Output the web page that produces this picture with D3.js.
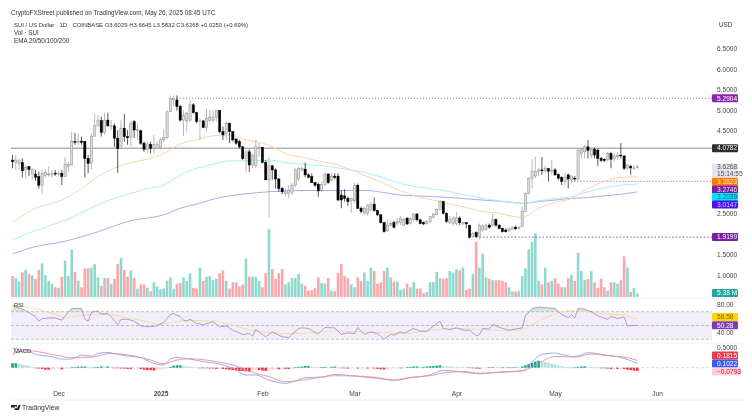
<!DOCTYPE html>
<html>
<head>
<meta charset="utf-8">
<script src="https://cdnjs.cloudflare.com/ajax/libs/d3/7.8.5/d3.min.js"></script>
<style>
  html, body { margin: 0; padding: 0; background: #fff; }
  svg { display: block; filter: blur(0.25px); }
  text { font-family: "Liberation Sans", Arial, sans-serif; }
  .axis path { display: none; }
  .axis line { display: none; }
  .axis text { font-size: 6.6px; fill: #444; }
</style>
</head>
<body>
<svg id="chart" width="752" height="418"></svg>
<script>
// Daily candles, Nov 17 2024 to May 26 2025
const opens = [
  3.79,3.73,3.70,3.73,3.55,3.63,3.45,3.45,3.39,3.18,
  3.42,3.43,3.44,3.47,3.45,3.47,3.39,3.64,3.67,4.24,
  4.22,4.25,4.24,3.83,3.71,4.37,4.62,4.75,4.46,4.76,
  4.60,4.62,4.32,4.07,4.56,4.36,4.35,4.72,4.50,4.50,
  4.20,4.05,4.17,4.07,4.07,4.10,4.28,4.34,4.96,5.25,
  5.25,5.09,4.76,4.74,4.76,5.13,4.94,4.72,4.74,4.58,
  4.75,4.76,4.83,4.99,4.48,4.44,4.68,4.48,4.30,4.24,
  4.11,3.83,3.99,3.67,3.65,4.07,4.10,3.73,3.31,3.65,
  3.55,3.33,3.10,2.98,2.98,3.00,3.18,3.33,3.55,3.57,
  3.43,3.39,3.24,3.20,3.06,3.20,3.45,3.29,3.40,3.40,
  2.94,2.92,2.86,2.80,2.80,3.18,2.62,2.51,2.50,2.58,
  2.72,2.56,2.46,2.27,2.07,2.21,2.27,2.25,2.27,2.21,
  2.38,2.25,2.35,2.48,2.34,2.27,2.25,2.30,2.40,2.46,
  2.59,2.78,2.50,2.28,2.25,2.25,2.38,2.24,2.27,2.21,
  1.93,2.03,1.93,2.09,2.11,2.21,2.21,2.35,2.21,2.13,
  2.09,2.07,2.11,2.16,2.13,2.17,2.54,2.98,3.35,3.40,
  3.52,3.55,3.53,3.58,3.52,3.55,3.44,3.37,3.27,3.43,
  3.31,3.35,3.33,3.95,3.99,4.11,3.91,4.05,4.03,3.83,
  3.81,3.81,3.95,3.83,3.87,3.91,3.89,3.59,3.63,3.60,3.6029
];
const closes = [
  3.75,3.79,3.77,3.53,3.61,3.56,3.56,3.37,3.18,3.47,
  3.49,3.45,3.47,3.45,3.47,3.39,3.69,3.69,4.24,4.22,
  4.25,4.22,3.83,3.71,4.37,4.62,4.76,4.46,4.76,4.62,
  4.62,4.32,4.07,4.56,4.36,4.33,4.68,4.52,4.53,4.20,
  4.05,4.18,4.07,4.17,4.16,4.28,4.34,4.96,5.29,5.29,
  5.09,4.76,4.88,4.92,5.13,4.94,4.72,4.74,4.58,4.80,
  4.83,4.84,4.99,4.48,4.40,4.68,4.48,4.28,4.20,4.11,
  3.83,3.99,3.67,3.91,4.11,4.10,3.73,3.31,3.65,3.55,
  3.33,3.10,3.02,3.02,3.06,3.18,3.55,3.59,3.59,3.43,
  3.37,3.24,3.18,3.04,3.20,3.45,3.24,3.40,3.37,2.82,
  2.82,2.86,2.78,2.86,3.18,2.62,2.54,2.62,2.70,2.72,
  2.56,2.46,2.27,2.05,2.21,2.25,2.16,2.30,2.38,2.35,
  2.24,2.38,2.48,2.34,2.25,2.24,2.30,2.42,2.48,2.59,
  2.78,2.50,2.30,2.34,2.38,2.40,2.27,2.27,2.24,1.91,
  2.01,1.93,2.21,2.19,2.21,2.16,2.34,2.21,2.13,2.05,
  2.05,2.12,2.16,2.12,2.16,2.54,2.98,3.35,3.51,3.52,
  3.55,3.53,3.58,3.52,3.55,3.43,3.35,3.27,3.37,3.33,
  3.40,3.33,4.03,4.05,4.11,4.02,4.05,3.91,3.83,3.78,
  3.78,3.95,3.81,3.89,3.91,3.89,3.59,3.67,3.60,3.60,3.6268
];
const highs = [
  3.91,3.91,3.83,3.83,3.67,3.65,3.59,3.55,3.51,3.55,
  3.55,3.63,3.55,3.55,3.53,3.55,3.87,3.75,4.48,4.45,
  4.44,4.36,4.24,3.91,4.44,4.91,4.88,4.84,4.94,4.94,
  4.76,4.68,4.52,4.75,4.91,4.52,4.75,4.76,4.68,4.53,
  4.24,4.24,4.24,4.40,4.24,4.32,4.52,5.00,5.36,5.36,
  5.36,5.13,5.00,4.96,5.25,5.17,4.96,4.80,4.76,5.04,
  5.00,4.99,5.00,5.00,4.60,4.72,4.70,4.48,4.32,4.28,
  4.13,4.03,4.05,3.95,4.28,4.20,4.11,3.79,3.87,3.67,
  3.59,3.35,3.14,3.10,3.18,3.23,3.59,3.63,3.65,3.73,
  3.47,3.47,3.26,3.24,3.26,3.47,3.47,3.47,3.47,3.47,
  3.06,3.08,2.90,2.90,3.23,3.22,2.66,2.66,2.72,2.78,
  2.88,2.58,2.48,2.29,2.35,2.33,2.32,2.38,2.42,2.38,
  2.40,2.40,2.50,2.50,2.36,2.30,2.33,2.44,2.50,2.62,
  2.82,2.80,2.52,2.43,2.43,2.54,2.43,2.30,2.29,2.21,
  2.05,2.06,2.25,2.23,2.25,2.25,2.48,2.37,2.23,2.15,
  2.13,2.15,2.18,2.20,2.19,2.66,3.00,3.37,3.81,3.87,
  3.60,3.87,3.65,3.60,3.79,3.60,3.47,3.40,3.47,3.46,
  3.43,3.40,4.07,4.09,4.16,4.28,4.09,4.09,4.07,3.87,
  3.83,3.99,3.99,3.95,3.99,4.20,3.91,3.69,3.67,3.67,3.6645
];
const lows = [
  3.59,3.55,3.55,3.37,3.35,3.40,3.31,3.29,3.10,2.98,
  3.37,3.39,3.37,3.41,3.40,3.18,3.37,3.51,3.67,4.16,
  4.16,4.16,3.37,3.47,3.55,4.36,4.60,4.36,4.40,4.60,
  4.52,4.11,3.48,4.05,4.23,4.16,4.11,4.32,4.28,4.16,
  3.99,3.95,3.95,3.95,4.05,4.05,4.24,4.29,4.96,5.09,
  4.99,4.72,4.38,4.48,4.72,4.92,4.68,4.28,4.56,4.48,
  4.72,4.72,4.72,4.44,4.28,4.28,4.20,4.24,4.16,4.07,
  3.79,3.48,3.50,3.59,3.60,3.87,3.71,3.60,2.40,3.31,
  3.10,3.02,2.96,2.90,2.86,2.94,3.14,3.29,3.51,3.37,
  3.35,3.23,3.14,2.90,3.02,3.16,3.21,3.27,3.32,2.80,
  2.62,2.78,2.68,2.51,2.74,2.60,2.50,2.46,2.44,2.54,
  2.54,2.43,2.25,2.03,2.05,2.17,2.13,2.21,2.21,2.19,
  2.21,2.23,2.30,2.30,2.23,2.21,2.22,2.25,2.38,2.46,
  2.56,2.47,2.27,2.24,2.21,2.21,2.21,2.21,2.13,1.89,
  1.89,1.90,1.87,2.05,2.07,2.13,2.17,2.17,2.11,2.03,
  2.03,2.05,2.09,2.10,2.11,2.16,2.52,2.96,3.10,3.35,
  3.40,3.43,3.48,3.27,3.43,3.40,3.31,3.18,3.18,3.10,
  3.23,3.29,3.31,3.83,3.83,3.83,3.83,3.83,3.65,3.75,
  3.74,3.75,3.59,3.75,3.79,3.83,3.55,3.55,3.43,3.55,3.5832
];
// Volume in millions
const volumes = [
  30,27,22,35,39,33,31,26,39,48,
  31,23,19,14,13,29,52,30,68,36,
  23,14,41,41,42,47,28,16,27,27,
  19,26,47,56,39,29,38,27,12,18,
  18,13,8,21,15,11,12,23,28,12,
  19,20,28,23,34,13,12,42,23,29,
  30,24,26,34,38,23,12,21,21,15,
  18,55,29,29,
  29,23,14,34,97,40,26,34,40,18,
  21,27,27,33,19,16,9,10,13,28,
  20,19,27,9,8,34,47,30,27,18,
  14,28,23,35,23,42,37,19,21,37,
  42,28,22,22,10,12,19,14,21,12,
  12,5,7,21,21,36,27,26,27,37,
  35,40,38,42,10,12,33,79,42,62,
  28,26,
  24,24,24,23,21,14,8,8,9,30,
  41,68,79,91,23,18,42,21,23,27,
  19,14,14,27,32,23,63,37,24,26,
  37,21,13,26,14,9,21,21,19,24,
  58,42,7,13,5.38
];

// Moving averages, sampled along the line
const emaDays = [0,6,16,21,26,31,36,41,46,51,56,61,66,71,78,83,88,93,98,103,108,113,118,123,128,133,138,143,148,150,155,160,165,170,175,180,185,190];
const emaOrange = [2.27,2.58,2.86,3.10,3.39,3.59,3.73,3.81,3.95,4.18,4.28,4.38,4.40,4.28,4.15,3.95,3.86,3.77,3.69,3.55,3.39,3.22,3.05,2.90,2.82,2.72,2.64,2.54,2.50,2.46,2.40,2.62,2.76,2.86,3.10,3.27,3.37,3.3823];
const emaCyan = [1.85,2.05,2.33,2.51,2.70,2.86,2.98,3.10,3.18,3.43,3.59,3.69,3.77,3.77,3.79,3.73,3.69,3.66,3.61,3.55,3.47,3.35,3.22,3.14,3.09,3.02,2.94,2.86,2.80,2.78,2.74,2.80,2.86,2.90,3.02,3.12,3.18,3.2039];
const emaPurple = [1.51,1.67,1.82,1.93,2.05,2.19,2.32,2.38,2.46,2.62,2.72,2.84,2.92,2.97,3.02,3.04,3.05,3.05,3.05,3.05,3.05,3.00,2.94,2.92,2.90,2.88,2.85,2.82,2.79,2.78,2.74,2.78,2.82,2.86,2.88,2.92,2.96,3.0147];

// RSI and its average
const rsiDays = [0,1,3,5,7,8,9,11,13,15,16,18,21,22,23,24,26,27,29,30,32,33,35,37,39,41,44,46,48,49,51,52,53,54,56,58,61,63,65,67,70,72,73,74,76,77,79,82,84,87,88,90,93,95,98,100,102,104,105,107,109,111,113,115,116,118,119,122,124,126,130,131,133,135,137,139,141,142,143,145,146,149,151,155,156,158,160,165,167,169,170,171,172,174,176,178,181,182,184,186,187,190];
const rsiValues = [79.5,77,73.7,68.8,62.6,56.3,60,61,61,57.7,64,74.6,74.6,59,56.3,68.8,71.3,66.4,67.4,62.6,51.4,59,59,56.3,49.5,48,49.5,54.3,65.9,67.4,62.6,57.7,56.3,59,52.9,51.4,55.3,48,49.5,43.2,37,38.4,34.5,44.2,37,33.6,40.8,33.6,32.6,45.7,46.6,45.7,37.4,47.1,46.6,37.4,39.4,38.4,47.1,37,40.8,38.4,30.2,37,36,40.8,38.4,45.7,41.8,41.8,56.3,45.7,44.2,46.6,43.2,43.2,35,37,45.7,44.7,51.4,45.7,43.2,46.6,64,74.6,76.6,74.6,65.9,61,65.9,61,74.6,73.7,69.8,64,59,63.5,60,62.6,49.5,50.28];
const rsiMaDays = [0,4,9,12,16,18,22,26,31,35,39,44,47,53,62,67,72,77,83,88,98,111,121,130,136,146,153,156,161,166,169,176,181,186,190];
const rsiMaValues = [77,77,72,67.4,61,62.6,65,66.4,65,61,57.7,51.4,52.9,57.7,56.3,50.5,43.2,39.9,38.4,38.4,42.3,39.9,38.9,44.7,45.7,43.2,42.3,45.7,59.2,68.8,71.7,69.8,65.9,65.9,58.58];

// MACD, signal and histogram
const macdDays = [0,2,5,7,12,15,18,21,24,26,29,32,35,39,43,46,48,50,54,58,62,67,71,74,78,83,86,89,94,98,102,105,111,116,121,127,131,136,142,148,155,158,161,165,168,171,175,179,186,190];
const macdValues = [.475,.459,.41,.328,.27,.213,.213,.311,.279,.352,.377,.328,.287,.246,.107,.066,.213,.254,.213,.148,.107,-.016,-.18,-.18,-.303,-.385,-.328,-.246,-.23,-.164,-.189,-.213,-.262,-.311,-.246,-.18,-.066,-.098,-.148,-.115,-.074,.148,.328,.361,.311,.27,.369,.328,.23,.1022];
const signalDays = [0,2,5,12,18,24,30,37,42,46,50,54,62,67,73,78,83,86,93,98,105,111,116,121,127,132,138,142,148,155,160,165,171,176,182,186,190];
const signalValues = [.328,.393,.418,.328,.246,.262,.352,.287,.189,.098,.189,.221,.148,.066,-.115,-.221,-.344,-.328,-.246,-.197,-.205,-.246,-.303,-.238,-.197,-.115,-.098,-.139,-.107,-.082,.107,.279,.262,.336,.287,.262,.1815];
const macdHist = [
  .11,.11,.09,.08,.06,.04,.02,-.01,-.02,-.03,
  -.05,-.05,-.03,-.02,-.015,-.04,-.02,-.01,.005,.01,
  .025,.03,.03,.01,.005,.005,.02,.03,.02,.03,
  .01,-.005,-.01,-.02,-.02,-.03,-.03,-.02,-.01,-.03,
  -.05,-.06,-.06,-.07,-.05,-.04,-.03,-.01,.02,.05,
  .06,.06,.05,.03,.02,.01,.005,-.005,-.01,-.01,
  -.02,-.02,-.03,-.02,-.03,-.04,-.05,-.06,-.07,-.08,
  -.08,-.09,-.10,-.07,-.05,-.06,-.07,-.08,-.06,-.05,
  -.04,-.04,-.03,-.03,-.03,-.02,.005,.02,.03,.04,
  .04,.02,.015,.01,.01,.02,.01,.02,.03,.02,
  -.005,-.01,-.02,-.015,-.01,-.02,-.015,-.01,-.02,-.01,
  -.02,-.03,-.04,-.045,-.03,-.02,-.015,-.01,-.01,-.005,
  .01,.02,.03,.03,.02,.02,.03,.035,.04,.05,
  .06,.04,.035,.03,.025,.02,.015,.01,.005,.005,
  -.01,-.02,-.025,-.01,-.005,.01,.01,.008,.006,.006,
  .005,.005,.006,.006,.005,.03,.06,.09,.12,.15,
  .17,.15,.14,.12,.10,.08,.06,.04,.02,.01,
  .005,.005,.02,.03,.035,.02,.015,.01,.005,-.005,
  -.01,-.02,-.03,-.02,-.03,-.02,-.03,-.05,-.06,-.07,-.0793
];

// Axis ticks and marked price levels
const priceTicks = [1,1.5,2.5,4.5,5,5.5,6,6.5];
const rsiTicks = [40,80];
const macdTicks = [0.5];
const monthTicks = ['2024-12-01','2025-01-01','2025-02-01','2025-03-01','2025-04-01','2025-05-01','2025-06-01'];
const monthLabels = ['Dec','2025','Feb','Mar','Apr','May','Jun'];
const levelHigh = 5.2904;
const levelMid = 4.0782;
const levelSupport = 3.2746;
const levelLow = 1.9199;
const lastPrice = 3.6268;
const countdown = '15:14:55';

const svg = d3.select('#chart');
const plotLeft = 11, plotRight = 712, frameRight = 744;
const startDay = new Date(Date.UTC(2024, 10, 17));
const dayDate = i => d3.utcDay.offset(startDay, i);

const x = d3.scaleUtc()
    .domain([startDay, new Date(Date.UTC(2025, 5, 1))])
    .range([12.5, 657]);
const xDay = i => x(dayDate(i));

const yPrice = d3.scaleLinear().domain([1, 6.5]).range([275, 48.4]);
const yVolume = d3.scaleLinear().domain([0, 100]).range([297, 227]);
const yRsi = d3.scaleLinear().domain([30, 70]).range([339.3, 311.7]);
const yMacd = d3.scaleLinear().domain([0, 0.5]).range([367.7, 347.4]);

// Pane separators
svg.selectAll('.sep')
    .data([298, 343, 400])
    .enter().append('line')
    .attr('x1', plotLeft).attr('x2', frameRight)
    .attr('y1', d => d).attr('y2', d => d)
    .attr('stroke', '#eef0f4').attr('stroke-width', 1);

// Volume
svg.append('g').selectAll('rect')
    .data(volumes)
    .enter().append('rect')
    .attr('x', (d, i) => xDay(i) - 1.3)
    .attr('width', 2.6)
    .attr('y', d => yVolume(d))
    .attr('height', d => yVolume(0) - yVolume(d))
    .attr('fill', (d, i) => closes[i] >= opens[i] ? '#8fd8ce' : '#fba6aa');

// Level lines
const levelLine = (value, from, color, dash) => svg.append('line')
    .attr('x1', from).attr('x2', plotRight)
    .attr('y1', yPrice(value)).attr('y2', yPrice(value))
    .attr('stroke', color).attr('stroke-width', 0.8)
    .attr('stroke-dasharray', dash);

levelLine(levelMid, plotLeft, '#6f6f6f', null);
levelLine(levelHigh, xDay(50), '#9c27b0', '1 2');
levelLine(levelSupport, xDay(170), '#7b1fa2', '1 2');
levelLine(levelLow, xDay(141), '#7b1fa2', '1.5 2');

// Moving averages
const emaLine = d3.line()
    .x(d => xDay(d[0]))
    .y(d => yPrice(d[1]))
    .curve(d3.curveMonotoneX);

[[emaPurple, '#b9a4ee'], [emaCyan, '#a5f0f5'], [emaOrange, '#fbd3ad']].forEach(([values, color]) => {
    svg.append('path')
        .attr('d', emaLine(emaDays.map((d, i) => [d, values[i]])))
        .attr('fill', 'none')
        .attr('stroke', color)
        .attr('stroke-width', 1);
});

// Candles
const candles = svg.append('g').selectAll('g')
    .data(closes)
    .enter().append('g');

candles.append('line')
    .attr('x1', (d, i) => xDay(i)).attr('x2', (d, i) => xDay(i))
    .attr('y1', (d, i) => yPrice(highs[i]))
    .attr('y2', (d, i) => yPrice(lows[i]))
    .attr('stroke', (d, i) => d >= opens[i] ? '#9a9a9a' : '#111')
    .attr('stroke-width', 0.7);

candles.append('rect')
    .attr('x', (d, i) => xDay(i) - 1.1)
    .attr('width', 2.2)
    .attr('y', (d, i) => yPrice(Math.max(d, opens[i])))
    .attr('height', (d, i) => Math.max(0.7, Math.abs(yPrice(d) - yPrice(opens[i]))))
    .attr('fill', (d, i) => d >= opens[i] ? '#dcdcdc' : '#000')
    .attr('stroke', (d, i) => d >= opens[i] ? '#8e8e8e' : '#000')
    .attr('stroke-width', 0.5);

// RSI pane
svg.append('rect')
    .attr('x', plotLeft).attr('width', plotRight - plotLeft)
    .attr('y', yRsi(70)).attr('height', yRsi(30) - yRsi(70))
    .attr('fill', '#7e57c2').attr('fill-opacity', 0.1);

svg.selectAll('.rsi-level')
    .data([70, 50, 30])
    .enter().append('line')
    .attr('x1', plotLeft).attr('x2', plotRight)
    .attr('y1', d => yRsi(d)).attr('y2', d => yRsi(d))
    .attr('stroke', '#9a9aa6').attr('stroke-width', 0.6)
    .attr('stroke-dasharray', '3 2');

svg.append('clipPath').attr('id', 'above70').append('rect')
    .attr('x', plotLeft).attr('width', plotRight - plotLeft)
    .attr('y', 298).attr('height', yRsi(70) - 298);

svg.append('path')
    .attr('d', d3.area()
        .x(d => xDay(d[0]))
        .y0(yRsi(70))
        .y1(d => yRsi(d[1]))(rsiDays.map((d, i) => [d, rsiValues[i]])))
    .attr('clip-path', 'url(#above70)')
    .attr('fill', '#4caf50').attr('fill-opacity', 0.25);

const rsiLine = d3.line().x(d => xDay(d[0])).y(d => yRsi(d[1]));

svg.append('path')
    .attr('d', rsiLine(rsiMaDays.map((d, i) => [d, rsiMaValues[i]])))
    .attr('fill', 'none').attr('stroke', '#f6dc94').attr('stroke-width', 0.9);

svg.append('path')
    .attr('d', rsiLine(rsiDays.map((d, i) => [d, rsiValues[i]])))
    .attr('fill', 'none').attr('stroke', '#a183cf').attr('stroke-width', 0.8);

// MACD pane
svg.append('line')
    .attr('x1', plotLeft).attr('x2', plotRight)
    .attr('y1', yMacd(0)).attr('y2', yMacd(0))
    .attr('stroke', '#c4c6cf').attr('stroke-width', 0.6)
    .attr('stroke-dasharray', '3 2');

const histColor = (d, i) => {
    const prev = i > 0 ? macdHist[i - 1] : d;
    if (d >= 0) return d >= prev ? '#1aa58f' : '#b2dfdb';
    return d <= prev ? '#f23645' : '#ffcdd2';
};

svg.append('g').selectAll('rect')
    .data(macdHist)
    .enter().append('rect')
    .attr('x', (d, i) => xDay(i) - 1.3)
    .attr('width', 2.6)
    .attr('y', d => Math.min(yMacd(d), yMacd(0)))
    .attr('height', d => Math.max(0.6, Math.abs(yMacd(d) - yMacd(0))))
    .attr('fill', histColor);

const macdLine = d3.line().x(d => xDay(d[0])).y(d => yMacd(d[1])).curve(d3.curveMonotoneX);

svg.append('path')
    .attr('d', macdLine(macdDays.map((d, i) => [d, macdValues[i]])))
    .attr('fill', 'none').attr('stroke', '#8f9ff2').attr('stroke-width', 0.9);

svg.append('path')
    .attr('d', macdLine(signalDays.map((d, i) => [d, signalValues[i]])))
    .attr('fill', 'none').attr('stroke', '#f48a9c').attr('stroke-width', 0.9);

// Axes
const axisX = 717;
svg.append('g').attr('class', 'axis')
    .attr('transform', `translate(${axisX},0)`)
    .call(d3.axisRight(yPrice).tickValues(priceTicks).tickSize(0).tickPadding(0).tickFormat(d3.format('.4f')));

svg.append('g').attr('class', 'axis')
    .attr('transform', `translate(${axisX},0)`)
    .call(d3.axisRight(yRsi).tickValues(rsiTicks).tickSize(0).tickPadding(0).tickFormat(d3.format('.2f')));

svg.append('g').attr('class', 'axis')
    .attr('transform', `translate(${axisX},0)`)
    .call(d3.axisRight(yMacd).tickValues(macdTicks).tickSize(0).tickPadding(0).tickFormat(d3.format('.4f')));

const xAxis = svg.append('g').attr('class', 'axis')
    .attr('transform', 'translate(0,391)')
    .call(d3.axisBottom(x)
        .tickValues(monthTicks.map(d => new Date(d + 'T00:00:00Z')))
        .tickSize(0).tickPadding(0)
        .tickFormat((d, i) => monthLabels[i]));
xAxis.selectAll('text')
    .style('font-weight', (d, i) => monthLabels[i] === '2025' ? 'bold' : null);

// Price tags on the axis
const tag = (y, label, fill, color, width) => {
    const w = width || 26;
    svg.append('rect')
        .attr('x', 712).attr('y', y - 4).attr('width', w).attr('height', 8)
        .attr('rx', 1).attr('fill', fill);
    svg.append('text')
        .attr('x', axisX).attr('y', y + 2.3)
        .style('font-size', '6.6px').attr('fill', color)
        .text(label);
};

tag(yPrice(levelHigh), levelHigh.toFixed(4), '#8e24aa', '#fff');
tag(yPrice(levelMid), levelMid.toFixed(4), '#2f2f2f', '#fff');
tag(yPrice(levelLow), levelLow.toFixed(4), '#7b1fa2', '#fff');

svg.append('rect')
    .attr('x', 712).attr('y', 163.5).attr('width', 26).attr('height', 14)
    .attr('rx', 1).attr('fill', '#e4e4ec');
svg.append('text').attr('x', axisX).attr('y', 169).style('font-size', '6.6px').attr('fill', '#555').text(lastPrice.toFixed(4));
svg.append('text').attr('x', axisX).attr('y', 176).style('font-size', '6.6px').attr('fill', '#555').text(countdown);

tag(181.7, emaOrange[emaOrange.length - 1].toFixed(4), '#ff7a00', '#ffe3c6');
tag(189.5, levelSupport.toFixed(4), '#7b1fa2', '#f1ddf7');
tag(197, emaCyan[emaCyan.length - 1].toFixed(4), '#00e5ff', '#05606b');
tag(204.5, emaPurple[emaPurple.length - 1].toFixed(4), '#4a14f0', '#d8d0ff');
tag(293, volumes[volumes.length - 1] + ' M', '#26a69a', '#fff');
tag(317, rsiMaValues[rsiMaValues.length - 1].toFixed(2), '#ffd600', '#7a6500');
tag(325.3, rsiValues[rsiValues.length - 1].toFixed(2), '#7e3fb5', '#fff');
tag(355.5, signalValues[signalValues.length - 1].toFixed(4), '#f23645', '#fff');
tag(363.5, macdValues[macdValues.length - 1].toFixed(4), '#3d5afe', '#fff');
tag(371.5, '\u22120.0793', '#ffcdd2', '#c2185b', 29);

// Header text
const header = (tx, ty, str, size, color) => svg.append('text')
    .attr('x', tx).attr('y', ty)
    .style('font-size', size + 'px').attr('fill', color || '#333')
    .text(str);

header(11, 14.5, 'CryptoFXStreet published on TradingView.com, May 26, 2025 08:45 UTC', 6.3);
header(14, 26.5, 'SUI / US Dollar \u00b7 1D \u00b7 COINBASE   O3.6029  H3.6645  L3.5832  C3.6268  +0.0250 (+0.69%)', 5.95);
header(14, 34.5, 'Vol \u00b7 SUI', 6.3);
header(14, 42.5, 'EMA 20/50/100/200', 6.3);
header(719, 26.5, 'USD', 6.3);
header(14, 306.5, 'RSI', 5.8);
header(14, 353, 'MACD', 5.8);

// TradingView mark
svg.append('path')
    .attr('d', 'M11 405h6v5h-2.4v-2.6H11zM18.5 405h2.2l-1.8 5h-2.2zM15.8 406.2a1 1 0 1 0 .01 0z')
    .attr('fill', '#222');
header(22, 410, 'TradingView', 6.8, '#333');
</script>
</body>
</html>
